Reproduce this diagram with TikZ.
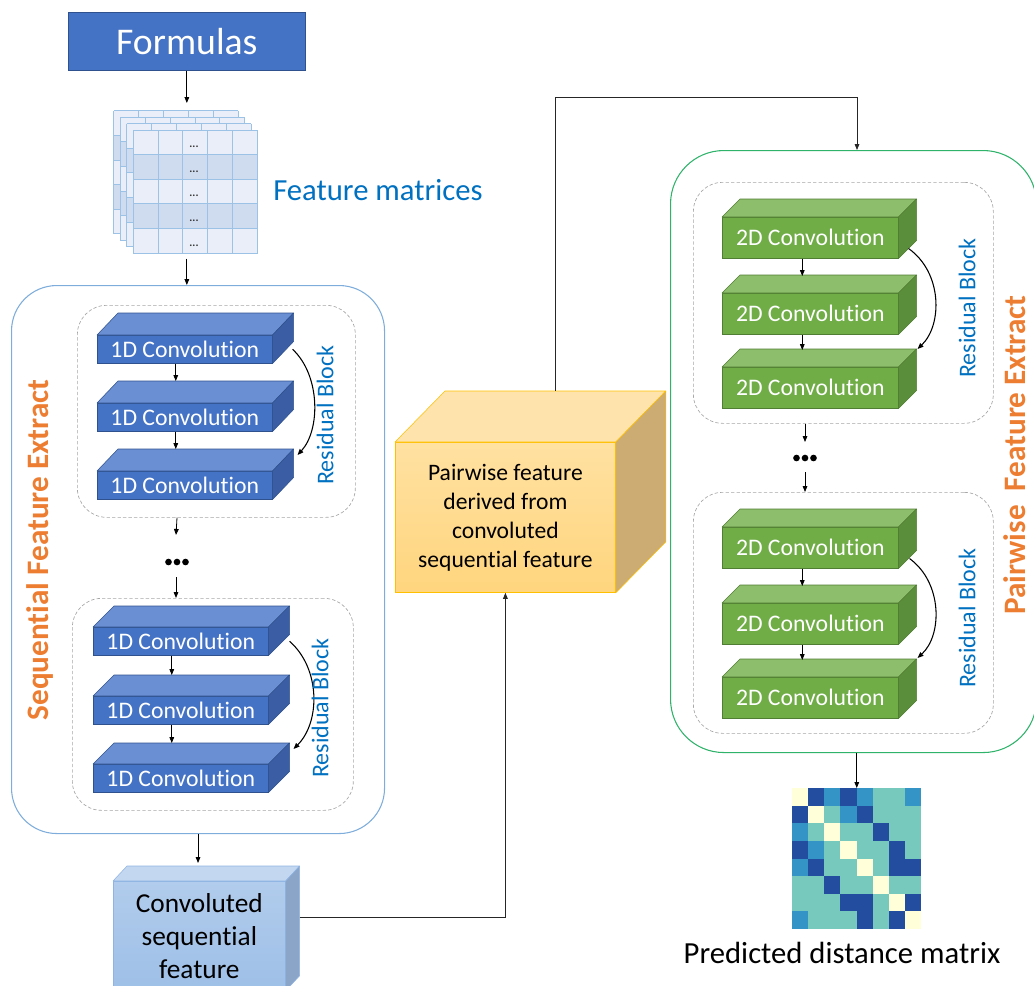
\documentclass[tikz,border=0pt]{standalone}
\usepackage{fontspec}
\setmainfont{Carlito}[Ligatures=NoCommon]
\usetikzlibrary{arrows.meta,calc}
\definecolor{bFront}{HTML}{4472C4}
\definecolor{bTop}{HTML}{6A8FD2}
\definecolor{bSide}{HTML}{3A5DA3}
\definecolor{bEdge}{HTML}{2F528F}
\definecolor{gFront}{HTML}{70AD47}
\definecolor{gTop}{HTML}{8DBE6B}
\definecolor{gSide}{HTML}{5B8E3A}
\definecolor{gEdge}{HTML}{507E32}
\definecolor{yTopc}{HTML}{FEE4AC}
\definecolor{yFrontTop}{HTML}{FFE1A1}
\definecolor{yFrontBot}{HTML}{FFD57E}
\definecolor{ySide}{HTML}{CCAC73}
\definecolor{yEdge}{HTML}{FFC000}
\definecolor{cFrontTop}{HTML}{B1CCEC}
\definecolor{cFrontBot}{HTML}{9EBFE7}
\definecolor{cTop}{HTML}{C3D7F0}
\definecolor{cSide}{HTML}{8AA5C8}
\definecolor{cEdge}{HTML}{8FB4E3}
\definecolor{txtBlue}{HTML}{0070C0}
\definecolor{orangeT}{HTML}{ED7D31}
\definecolor{seqEdge}{HTML}{7EADDC}
\definecolor{greenEdge}{HTML}{2FB36B}
\definecolor{dashGray}{HTML}{A6A6A6}
\definecolor{fmLight}{HTML}{E9EEF8}
\definecolor{fmDark}{HTML}{CFDBEF}
\definecolor{fmLine}{HTML}{9CC2E5}
\definecolor{dmY}{HTML}{FFFFD9}
\definecolor{dmD}{HTML}{234EA0}
\definecolor{dmM}{HTML}{3594C6}
\definecolor{dmT}{HTML}{77C9BE}
\newcommand\cubefaces[6]{%
  \filldraw[fill=#4,draw=#6,line width=0.4pt,line join=round] (#1.north west) -- ++(#2,#3) -- ($(#1.north east)+(#2,#3)$) -- (#1.north east) -- cycle;
  \filldraw[fill=#5,draw=#6,line width=0.4pt,line join=round] (#1.north east) -- ++(#2,#3) -- ($(#1.south east)+(#2,#3)$) -- (#1.south east) -- cycle;
}
\begin{document}
\begin{tikzpicture}[x=0.75pt,y=-0.75pt,
  arr/.style={-{Triangle[length=4.5pt,width=3.5pt]},line width=0.6pt},
  conn/.style={line width=0.75pt,draw=black!85},
  cube/.style={inner sep=0,anchor=north west},
  oned/.style={cube,draw=bEdge,line width=0.4pt,fill=bFront,text=white,minimum width=131.25pt,minimum height=21pt,font=\fontsize{17.8}{20}\selectfont},
  twod/.style={cube,draw=gEdge,line width=0.4pt,fill=gFront,text=white,minimum width=132pt,minimum height=30.75pt,font=\fontsize{17.8}{20}\selectfont},
  resblk/.style={cube,draw=dashGray,dash pattern=on 2.5pt off 1.6pt,line width=0.5pt,rounded corners=22pt},
  reslbl/.style={text=txtBlue,rotate=90,font=\fontsize{18}{20}\selectfont},
  biglbl/.style={text=orangeT,rotate=90,font=\bfseries\fontsize{23.4}{26}\selectfont,inner sep=0},
]
\useasboundingbox (0,0) rectangle (1034,985);
\clip (0,0) rectangle (1034,985);

% Formulas
\node[cube,fill=bFront,draw=bEdge,line width=0.5pt,text=white,minimum width=177.75pt,minimum height=43.5pt,font=\fontsize{28.3}{30}\selectfont] (formulas) at (68,12) {Formulas};

% Feature matrices stack
\node[cube,minimum width=107.25pt,minimum height=106.5pt] (fmstack) at (114,111) {};
\foreach \k in {3,2,1,0}{
  \pgfmathsetmacro\ox{133-6.4*\k}
  \pgfmathsetmacro\oy{130-6.4*\k}
  \fill[fmLight] (\ox,\oy) rectangle ++(124.5,123);
  \fill[fmDark] ({\ox},{\oy+24.6}) rectangle ++(124.5,24.6);
  \fill[fmDark] ({\ox},{\oy+73.8}) rectangle ++(124.5,24.6);
  \foreach \i in {0,...,5}{
    \draw[fmLine,line width=0.6pt] ({\ox+24.9*\i},{\oy}) -- ++(0,123);
    \draw[fmLine,line width=0.6pt] ({\ox},{\oy+24.6*\i}) -- ++(124.5,0);
  }
}
\foreach \r in {0,...,4}{
  \node[inner sep=0,text=black!80,font=\bfseries\fontsize{8.5}{9}\selectfont] at (194,{147+24.6*\r}) {...};
}
\node[anchor=west,text=txtBlue,font=\fontsize{23}{26}\selectfont,inner sep=0] (fmlabel) at (273,190) {Feature matrices};

\draw[arr] (formulas.south) -- ($(formulas.south |- fmstack.north)+(0,-8)$);

% Sequential big box
\node[cube,draw=seqEdge,line width=0.8pt,rounded corners=34pt,minimum width=279.75pt,minimum height=411pt] (seq) at (11,285) {};
\draw[arr] ($(formulas.south |- fmstack.south)+(0,5)$) -- (formulas.south |- seq.north);

% residual blocks (left)
\node[resblk,minimum width=208.5pt,minimum height=159pt] (rb1) at (77,305) {};
\node[resblk,minimum width=210.75pt,minimum height=159pt] (rb2) at (72,598) {};

\node[oned] (a1) at (97,335) {1D Convolution};
\cubefaces{a1}{21}{-22}{bTop}{bSide}{bEdge}
\node[oned] (a2) at (97,403) {1D Convolution};
\cubefaces{a2}{21}{-22}{bTop}{bSide}{bEdge}
\node[oned] (a3) at (97,471) {1D Convolution};
\cubefaces{a3}{21}{-22}{bTop}{bSide}{bEdge}
\draw[arr] ($(a1.south)+(-9,0)$) -- ($(a2.north)+(-9,-22)$);
\draw[arr] ($(a2.south)+(-9,0)$) -- ($(a3.north)+(-9,-22)$);
\draw[arr,line width=0.8pt] ($(a1.east)+(20,0)$) .. controls ($(a1.east)+(48,26)$) and ($(a3.north east)+(48,-41)$) .. ($(a3.north east)+(25,-16)$);
\node[reslbl] (rl1) at (325,415) {Residual Block};

\node[oned] (a4) at (93,627) {1D Convolution};
\cubefaces{a4}{21}{-21}{bTop}{bSide}{bEdge}
\node[oned] (a5) at (93,696) {1D Convolution};
\cubefaces{a5}{21}{-21}{bTop}{bSide}{bEdge}
\node[oned] (a6) at (93,764) {1D Convolution};
\cubefaces{a6}{21}{-21}{bTop}{bSide}{bEdge}
\draw[arr] ($(a4.south)+(-9,0)$) -- ($(a5.north)+(-9,-21)$);
\draw[arr] ($(a5.south)+(-9,0)$) -- ($(a6.north)+(-9,-21)$);
\draw[arr,line width=0.8pt] ($(a4.east)+(21,0)$) .. controls ($(a4.east)+(52,27)$) and ($(a6.north east)+(52,-42)$) .. ($(a6.north east)+(25,-15)$);
\node[reslbl] (rl2) at (320,708) {Residual Block};

% dots left
\node[inner sep=0,minimum width=19pt,minimum height=6pt] (d1) at (177,562) {};
\foreach \dx in {-8.5,0,8.5} \fill ($(d1)+(\dx,0)$) circle (2.5pt);
\draw[arr] (d1 |- rb1.south) -- ($(d1)+(-1,-27)$);
\draw[arr] ($(d1)+(-1,15)$) -- ($(d1 |- rb2.north)+(-1,0)$);

\node[biglbl] (seqlbl) at (40,550) {Sequential Feature Extract};

% Convoluted sequential feature
\node[cube,draw=cEdge,line width=0.5pt,top color=cFrontTop,bottom color=cFrontBot,minimum width=129pt,minimum height=81.75pt,align=center,font=\fontsize{20.5}{24.75}\selectfont] (cs) at (113,881) {Convoluted\\sequential\\feature};
\cubefaces{cs}{14}{-15}{cTop}{cSide}{cEdge}
\draw[arr] (seq.south) -- ($(seq.south |- cs.north)+(0,-18)$);

% Pairwise yellow cube
\node[cube,draw=yEdge,line width=0.6pt,top color=yFrontTop,bottom color=yFrontBot,minimum width=165pt,minimum height=112.5pt,align=center,font=\fontsize{17.7}{21.75}\selectfont] (yb) at (395,442) {Pairwise feature\\derived from\\convoluted\\sequential feature};
\cubefaces{yb}{50}{-51}{yTopc}{ySide}{yEdge}

\draw[conn,arr] ($(cs.north east)+(14,36)$) -| (yb.south);

% Green big box
\node[cube,draw=greenEdge,line width=0.8pt,rounded corners=40pt,minimum width=274.5pt,minimum height=451.5pt] (gb) at (670,150) {};
\coordinate (turn) at (857,97);
\draw[conn,arr] ($(yb.north)+(50,-51)$) |- (turn) -- (turn |- gb.north);

\node[resblk,minimum width=225pt,minimum height=180.75pt] (rb3) at (693,182) {};
\node[resblk,minimum width=225pt,minimum height=180.75pt] (rb4) at (693,492) {};

\node[twod] (b1) at (722,217) {2D Convolution};
\cubefaces{b1}{18}{-18}{gTop}{gSide}{gEdge}
\node[twod] (b2) at (722,293) {2D Convolution};
\cubefaces{b2}{18}{-18}{gTop}{gSide}{gEdge}
\node[twod] (b3) at (722,367) {2D Convolution};
\cubefaces{b3}{18}{-18}{gTop}{gSide}{gEdge}
\draw[arr] ($(b1.south)+(-8,0)$) -- ($(b2.north)+(-8,-17)$);
\draw[arr] ($(b2.south)+(-8,0)$) -- ($(b3.north)+(-8,-17)$);
\draw[arr,line width=0.8pt] ($(b1.south east)+(10,-10)$) .. controls ($(b1.south east)+(44,14)$) and ($(b3.north east)+(44,-42)$) .. ($(b3.north east)+(19,-18)$);
\node[reslbl] (rl3) at (967,308) {Residual Block};

\node[twod] (b4) at (722,527) {2D Convolution};
\cubefaces{b4}{18}{-18}{gTop}{gSide}{gEdge}
\node[twod] (b5) at (722,603) {2D Convolution};
\cubefaces{b5}{18}{-18}{gTop}{gSide}{gEdge}
\node[twod] (b6) at (722,677) {2D Convolution};
\cubefaces{b6}{18}{-18}{gTop}{gSide}{gEdge}
\draw[arr] ($(b4.south)+(-8,0)$) -- ($(b5.north)+(-8,-17)$);
\draw[arr] ($(b5.south)+(-8,0)$) -- ($(b6.north)+(-8,-17)$);
\draw[arr,line width=0.8pt] ($(b4.south east)+(11,-10)$) .. controls ($(b4.south east)+(44,14)$) and ($(b6.north east)+(44,-42)$) .. ($(b6.north east)+(19,-19)$);
\node[reslbl] (rl4) at (967,618) {Residual Block};

% dots right
\node[inner sep=0,minimum width=19pt,minimum height=6pt] (d2) at (805,458) {};
\foreach \dx in {-8.5,0,8.5} \fill ($(d2)+(\dx,0)$) circle (2.5pt);
\draw[arr] (d2 |- rb3.south) -- ($(d2)+(0,-16)$);
\draw[arr] ($(d2)+(0,14)$) -- (d2 |- rb4.north);

\node[biglbl] (pwlbl) at (1015,455) {Pairwise~ Feature Extract};

% Distance matrix
\node[cube,minimum width=96.75pt,minimum height=105.75pt] (dm) at (792,788) {};
\foreach \rowlist [count=\i from 0] in {{Y,D,M,D,M,T,T,M},{D,Y,T,M,D,T,T,T},{M,T,Y,T,T,D,T,T},{D,M,T,Y,T,T,D,T},{M,D,T,T,Y,T,D,D},{T,T,D,T,T,Y,T,T},{T,T,T,D,D,T,Y,D},{M,T,T,T,D,T,D,Y}}{
  \foreach \c [count=\j from 0] in \rowlist {
    \fill[dm\c] ({792+16.125*\j},{788+17.625*\i}) rectangle ++(16.4,17.9);
  }
}
\draw[arr] (dm.north |- gb.south) -- (dm.north);
\node[font=\fontsize{23}{26}\selectfont,inner sep=0] (dmlabel) at (842,953) {Predicted distance matrix};
\end{tikzpicture}
\end{document}
